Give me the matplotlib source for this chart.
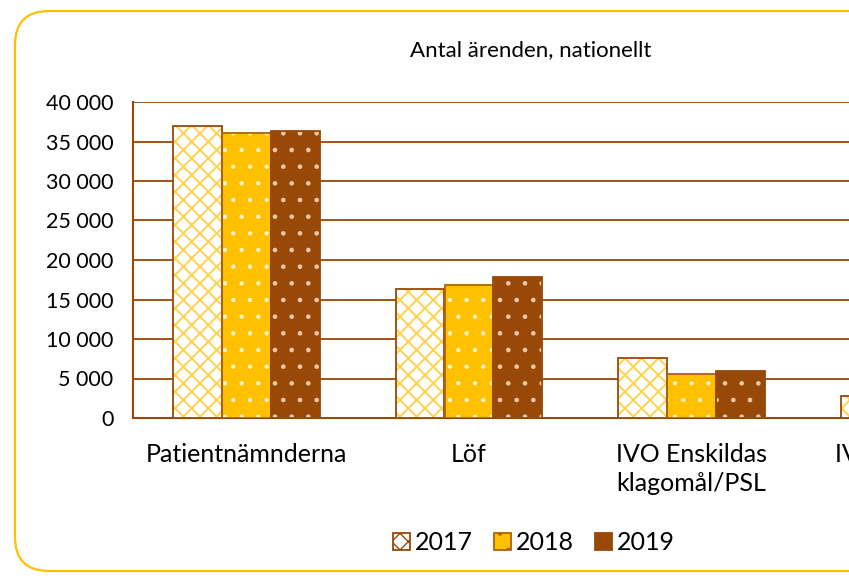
import matplotlib
matplotlib.use("Agg")
import matplotlib.pyplot as plt
from matplotlib.patches import Patch, FancyBboxPatch
import numpy as np

plt.rcParams['font.family'] = ['Lato', 'DejaVu Sans']

categories = ["Patientnämnderna", "Löf", "IVO Enskildas\nklagomål/PSL", "IVO Lex Maria"]
years = ["2017", "2018", "2019"]
v2017 = [36900, 16300, 7600, 2800]
v2018 = [36100, 16800, 5600, 2400]
v2019 = [36300, 17800, 5900, 2600]
yticks = [0, 5000, 10000, 15000, 20000, 25000, 30000, 35000, 40000]
ytick_labels = ["0", "5 000", "10 000", "15 000", "20 000", "25 000", "30 000", "35 000", "40 000"]
title = "Antal ärenden, nationellt"

YEL = "#FFC000"
BRN = "#984807"

W, H = 849, 582
fig = plt.figure(figsize=(W / 100, H / 100), dpi=100)

# rounded border (cut at right edge)
border = FancyBboxPatch((15 / W, 1 - 571 / H), 1000 / W, (571 - 11) / H,
                        boxstyle="round,pad=0,rounding_size=0.04",
                        transform=fig.transFigure, fill=False,
                        edgecolor=YEL, linewidth=1.6, clip_on=False,
                        mutation_aspect=W / H)
fig.patches.append(border)

left, top, bottom = 133, 102, 418
ax = fig.add_axes([left / W, 1 - bottom / H, 890 / W, (bottom - top) / H])

x = np.arange(len(categories))
bw = 0.22
styles = [
    dict(data=v2017, face="white", hatch="xx", hcol="#FFD24D", edge=BRN, hlw=1.4),
    dict(data=v2018, face=YEL, hatch=".", hcol="#FFF3D0", edge="#B06010", hlw=0.7),
    dict(data=v2019, face=BRN, hatch=".", hcol="#E8C8A8", edge=BRN, hlw=0.9),
]
handles = []
for i, (yr, st) in enumerate(zip(years, styles)):
    pos = x + (i - 1) * bw
    with plt.rc_context({'hatch.linewidth': st["hlw"]}):
        ax.bar(pos, st["data"], bw, color=st["face"], hatch=st["hatch"],
               edgecolor=st["hcol"], linewidth=0, zorder=3)
        handles.append(Patch(facecolor=st["face"], hatch=st["hatch"],
                             edgecolor=st["edge"], linewidth=1.3, label=yr))
    ax.bar(pos, st["data"], bw, fill=False, edgecolor=st["edge"],
           linewidth=1.3, zorder=4)

ax.set_xlim(-0.51, 3.49)
ax.set_ylim(0, 40000)
ax.set_yticks(yticks)
ax.set_yticklabels(ytick_labels, fontsize=15.5)
ax.set_xticks(x)
ax.set_xticklabels(categories, fontsize=18, linespacing=1.3)
ax.tick_params(axis='both', length=0)
ax.tick_params(axis='y', pad=14)
ax.tick_params(axis='x', pad=18)
ax.yaxis.grid(True, color=BRN, linewidth=1.3, zorder=0)
ax.set_axisbelow(True)
for s in ["top", "right"]:
    ax.spines[s].set_visible(False)
for s in ["left", "bottom"]:
    ax.spines[s].set_color(BRN)
    ax.spines[s].set_linewidth(1.5)

fig.text(531 / W, 1 - 50 / H, title, ha="center", va="center", fontsize=16)

leg = fig.legend(handles=handles, loc="center", bbox_to_anchor=(534 / W, 1 - 543 / H),
                 ncol=3, frameon=False, fontsize=18, handlelength=0.68,
                 handleheight=0.68, handletextpad=0.2, columnspacing=0.85,
                 borderpad=0)

fig.savefig("out.png", dpi=100)
